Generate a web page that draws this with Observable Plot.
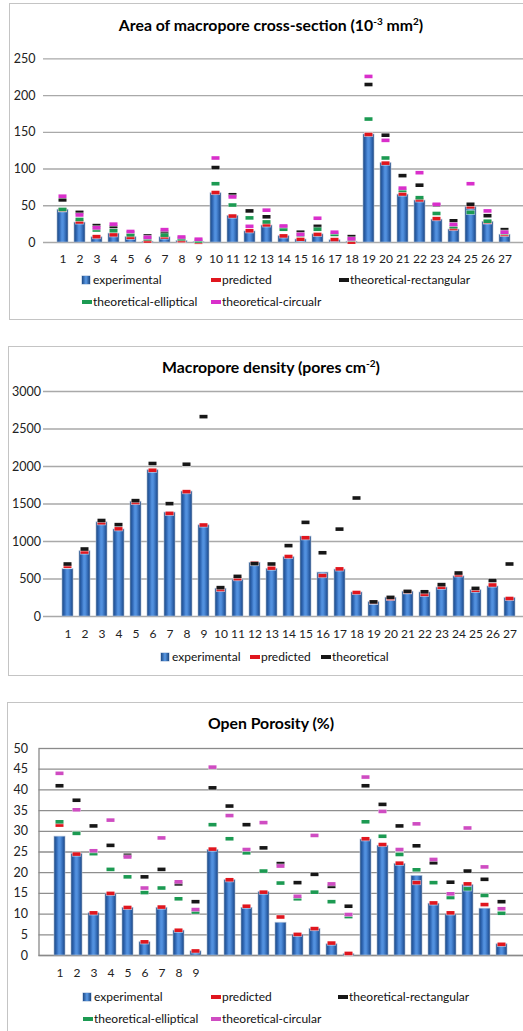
<!DOCTYPE html>
<html>
<head>
<meta charset="utf-8">
<script src="https://cdn.jsdelivr.net/npm/d3@7"></script>
<script src="https://cdn.jsdelivr.net/npm/@observablehq/plot@0.6"></script>
<style>
  html, body { margin: 0; padding: 0; background: #fff; }
  body { width: 523px; height: 1031px; overflow: hidden; position: relative; font-family: Lato, "Open Sans", sans-serif; color: #000; }
  .panel { position: absolute; width: 526px; border: 1.5px solid #c4c4c4; box-sizing: border-box; background: #fff; }
  .title { position: absolute; left: 0; width: 542px; text-align: center; font-weight: bold; font-size: 15.8px; line-height: 1; transform: translateY(-50%); }
  .title sup { font-size: 10px; vertical-align: 6px; line-height: 0; }
  .chart { position: absolute; left: 0; }
  .chart svg { display: block; overflow: visible; }
  .leg { position: absolute; font-size: 12px; line-height: 1; white-space: nowrap; transform: translateY(-50%); display: flex; align-items: center; color: #111; }
  .sw-box { width: 8px; height: 8px; margin-right: 3px; background: linear-gradient(90deg, #1d4a86, #5a9ae6 50%, #1b467f); box-shadow: 0 0 0 0.5px #9fb6d6; }
  .sw-dash { width: 10px; height: 3.5px; margin-right: 1px; }
</style>
</head>
<body>
<script>
// ---------------- data ----------------
const samples = ["1","2","3","4","5","6","7","8","9","10","11","12","13","14","15","16","17","18","19","20","21","22","23","24","25","26","27"];

// Chart 1: Area of macropore cross-section (10^-3 mm^2)
const areaTicks = [0, 50, 100, 150, 200, 250];
const areaExperimental = [44.5, 27, 7, 12, 7.2, 1, 7, 2, 0.3, 67, 36, 15, 23, 8.5, 4, 11, 3, 1, 147, 108, 65, 57, 31, 17.5, 48, 28, 10.5];
const areaPredicted    = [44.5, 28, 8, 10.5, 7, 2, 7.5, 2.5, 0.3, 68, 36, 16, 24, 9, 4.5, 11, 4, 0.5, 147, 108, 66, 58, 32.5, 19, 48.5, 28, 11];
const areaRectangular  = [58, 41, 23, 21.5, 13, 9, 14, 6, 3, 102, 65, 43, 35, 21, 14, 22, 12, 8, 215, 146, 91, 78, 51, 29.5, 52, 36.5, 17.5];
const areaElliptical   = [45, 31.5, 17, 16, 10.5, 5, 10, 5, 2, 80, 51, 33.5, 28, 18, 10, 18, 11, 4, 168, 115, 71, 61, 39.5, 21.5, 41, 29, 13];
const areaCircular     = [63, 37.5, 20, 25, 15, 7, 17.5, 7.5, 4.5, 115, 62, 22, 44, 22.5, 11, 33, 14, 5, 226, 139, 74, 95, 52, 24.5, 80, 43, 14];
const areaSeriesNames  = ["experimental", "predicted", "theoretical-rectangular", "theoretical-elliptical", "theoretical-circualr"];

// Chart 2: Macropore density (pores cm^-2)
const densityTicks = [0, 500, 1000, 1500, 2000, 2500, 3000];
const densityExperimental = [630, 870, 1255, 1160, 1530, 1950, 1385, 1665, 1215, 370, 490, 715, 635, 790, 1065, 585, 625, 320, 190, 250, 330, 320, 385, 535, 350, 400, 245];
const densityPredicted    = [670, 860, 1250, 1170, 1520, 1950, 1375, 1665, 1220, 360, 505, 715, 645, 800, 1050, 545, 635, 320, 190, 240, 330, 295, 390, 555, 350, 420, 240];
const densityTheoretical  = [700, 900, 1280, 1225, 1545, 2040, 1505, 2030, 2665, 385, 535, 705, 700, 945, 1255, 850, 1165, 1580, 195, 255, 335, 330, 425, 580, 375, 480, 700];
const densitySeriesNames  = ["experimental", "predicted", "theoretical"];

// Chart 3: Open Porosity (%)
const porosityTicks = [0, 5, 10, 15, 20, 25, 30, 35, 40, 45, 50];
const porosityXLabels = ["1","2","3","4","5","6","7","8","9"];
const porosityExperimental = [28.7, 24.5, 10.2, 14.8, 11.5, 3.2, 11.5, 6, 1, 25.5, 18.2, 11.5, 15.3, 7.9, 5, 6.4, 2.7, 0.3, 28, 26.5, 22.1, 19.2, 12.5, 9.9, 17, 11.3, 2.7];
const porosityPredicted    = [31.5, 24.5, 10.3, 15, 11.6, 3.3, 11.7, 6.1, 1.1, 25.7, 18.3, 11.9, 15.3, 9.3, 5.1, 6.5, 3, 0.5, 28.2, 26.8, 22.3, 17.6, 12.7, 10.3, 17.3, 12.3, 2.7];
const porosityRectangular  = [41, 37.5, 31.3, 26.6, 24.2, 19, 20.8, 17.3, 13, 40.5, 36.1, 31.6, 26, 22.2, 17.6, 19.6, 16.7, 11.9, 41, 36.5, 31.3, 26.5, 22.4, 17.7, 20.4, 18.4, 13];
const porosityElliptical   = [32.3, 29.5, 24.6, 20.8, 19, 15.2, 16.3, 13.7, 10.5, 31.6, 28.2, 24.8, 20.4, 17.5, 13.7, 15.3, 13, 9.4, 32.3, 28.8, 24.4, 20.7, 17.6, 14, 16.1, 14.5, 10.2];
const porosityCircular     = [44, 35.2, 25.3, 32.7, 23.8, 16.3, 28.4, 17.8, 11.1, 45.5, 33.8, 25.6, 32.1, 21.6, 14.3, 29, 17.3, 9.9, 43.1, 34.8, 25.6, 31.8, 23.2, 14.9, 30.8, 21.4, 11.3];
const porositySeriesNames  = ["experimental", "predicted", "theoretical-rectangular", "theoretical-elliptical", "theoretical-circular"];

// ---------------- styling ----------------
const COLORS = { predicted: "#e0161e", rect: "#171717", ellip: "#1c9a52", circ: "#d92fcb", circ3: "#cf4cc2" };

function rowsOf(values) { return samples.map((s, i) => ({ sample: s, value: values[i] })); }

function gradientDefs(id) {
  return () => {
    const defs = d3.create("svg:defs");
    const g = defs.append("linearGradient").attr("id", id)
      .attr("x1", "0").attr("x2", "1").attr("y1", "0").attr("y2", "0");
    [[0, "#1c4780"], [0.22, "#2f66b2"], [0.45, "#5594e2"], [0.6, "#4c8ad8"], [0.85, "#2a5ea6"], [1, "#1a437b"]]
      .forEach(([o, c]) => g.append("stop").attr("offset", o).attr("stop-color", c));
    return defs.node();
  };
}

function buildChart(cfg) {
  const marks = [
    gradientDefs(cfg.gradId),
    Plot.ruleY(cfg.yTicks.filter(t => cfg.frame ? t !== cfg.yTicks[cfg.yTicks.length - 1] : true),
      { stroke: cfg.gridColor, strokeWidth: 1.3 }),
  ];
  if (cfg.frame) marks.push(Plot.frame({ stroke: "#8a8a8a", strokeWidth: 1.3, insetRight: -4 }));
  marks.push(
    Plot.barY(rowsOf(cfg.experimental), { x: "sample", y: "value", fill: `url(#${cfg.gradId})`, stroke: "#a9bcd6", strokeWidth: 0.8, strokeOpacity: 0.8 })
  );
  for (const s of cfg.series) {
    marks.push(Plot.tickY(rowsOf(s.values), { x: "sample", y: "value", stroke: "#ffffff", strokeOpacity: 0.6, strokeWidth: 5, insetLeft: 1, insetRight: 1 }));
    marks.push(Plot.tickY(rowsOf(s.values), { x: "sample", y: "value", stroke: s.color, strokeWidth: 3.6, insetLeft: 1.5, insetRight: 1.5 }));
  }
  marks.push(
    Plot.axisY(cfg.yTicks, { tickSize: 0, tickPadding: cfg.yPad, fontSize: 12.5, fill: "#222", label: null, tickFormat: d => String(d) }),
    Plot.axisX(cfg.xLabels, { tickSize: 0, tickPadding: cfg.xPad, fontSize: 12, fill: "#222", label: null })
  );
  const svg = Plot.plot({
    width: 523,
    height: cfg.height,
    marginTop: cfg.marginTop,
    marginBottom: cfg.marginBottom,
    marginLeft: cfg.marginLeft,
    marginRight: 0,
    style: { fontFamily: "Lato, 'Open Sans', sans-serif", background: "transparent", overflow: "visible" },
    x: { type: "band", domain: samples, paddingInner: 0.38, paddingOuter: 0.19, insetLeft: cfg.xInsetLeft || 0, label: null },
    y: { domain: cfg.yDomain, label: null },
    marks
  });
  const holder = document.createElement("div");
  holder.className = "chart";
  holder.style.top = cfg.top + "px";
  holder.appendChild(svg);
  document.body.appendChild(holder);
}

function panel(top, left, height) {
  const d = document.createElement("div");
  d.className = "panel";
  d.style.top = top + "px"; d.style.left = left + "px"; d.style.height = height + "px";
  document.body.appendChild(d);
}
function title(html, centerY) {
  const d = document.createElement("div");
  d.className = "title";
  d.style.top = centerY + "px";
  d.innerHTML = html;
  document.body.appendChild(d);
}
function legendItem(label, kind, color, left, centerY) {
  const d = document.createElement("div");
  d.className = "leg";
  d.style.left = left + "px"; d.style.top = centerY + "px";
  const sw = document.createElement("span");
  if (kind === "box") sw.className = "sw-box";
  else { sw.className = "sw-dash"; sw.style.background = color; }
  d.appendChild(sw);
  d.appendChild(document.createTextNode(label));
  document.body.appendChild(d);
}

// ---------------- panels ----------------
panel(3, 9, 317);
panel(346, 8, 330);
panel(702, 7, 340);

// Chart 1
title("Area of macropore cross-section (10<sup>-3</sup> mm<sup>2</sup>)", 25);
buildChart({
  top: 40, height: 228, marginTop: 18.3, marginBottom: 26, marginLeft: 43,
  yDomain: [0, 250], yTicks: areaTicks, yPad: 8, xPad: 12, xLabels: samples,
  gridColor: "#a9a9a9", gradId: "g1",
  experimental: areaExperimental,
  series: [
    { values: areaPredicted, color: COLORS.predicted },
    { values: areaRectangular, color: COLORS.rect },
    { values: areaElliptical, color: COLORS.ellip },
    { values: areaCircular, color: COLORS.circ }
  ]
});
legendItem(areaSeriesNames[0], "box", null, 82, 280);
legendItem(areaSeriesNames[1], "dash", COLORS.predicted, 211, 280);
legendItem(areaSeriesNames[2], "dash", COLORS.rect, 339, 280);
legendItem(areaSeriesNames[3], "dash", COLORS.ellip, 82, 302);
legendItem(areaSeriesNames[4], "dash", COLORS.circ, 211, 302);

// Chart 2
title("Macropore density (pores cm<sup>-2</sup>)", 367);
buildChart({
  top: 370, height: 270, marginTop: 21, marginBottom: 24, marginLeft: 43, xInsetLeft: 9.6,
  yDomain: [0, 3000], yTicks: densityTicks, yPad: 2.5, xPad: 13, xLabels: samples,
  gridColor: "#a9a9a9", gradId: "g2",
  experimental: densityExperimental,
  series: [
    { values: densityPredicted, color: COLORS.predicted },
    { values: densityTheoretical, color: COLORS.rect }
  ]
});
legendItem(densitySeriesNames[0], "box", null, 161, 657);
legendItem(densitySeriesNames[1], "dash", COLORS.predicted, 250, 657);
legendItem(densitySeriesNames[2], "dash", COLORS.rect, 321, 657);

// Chart 3
title("Open Porosity (%)", 723);
buildChart({
  top: 735, height: 245, marginTop: 13, marginBottom: 25, marginLeft: 38.5,
  yDomain: [0, 50], yTicks: porosityTicks, yPad: 11, xPad: 13, xLabels: porosityXLabels,
  gridColor: "#8e8e8e", gradId: "g3", frame: true,
  experimental: porosityExperimental,
  series: [
    { values: porosityPredicted, color: COLORS.predicted },
    { values: porosityRectangular, color: COLORS.rect },
    { values: porosityElliptical, color: COLORS.ellip },
    { values: porosityCircular, color: COLORS.circ3 }
  ]
});
legendItem(porositySeriesNames[0], "box", null, 83, 997);
legendItem(porositySeriesNames[1], "dash", COLORS.predicted, 211, 997);
legendItem(porositySeriesNames[2], "dash", COLORS.rect, 338, 997);
legendItem(porositySeriesNames[3], "dash", COLORS.ellip, 83, 1019);
legendItem(porositySeriesNames[4], "dash", COLORS.circ3, 211, 1019);
</script>
</body>
</html>
